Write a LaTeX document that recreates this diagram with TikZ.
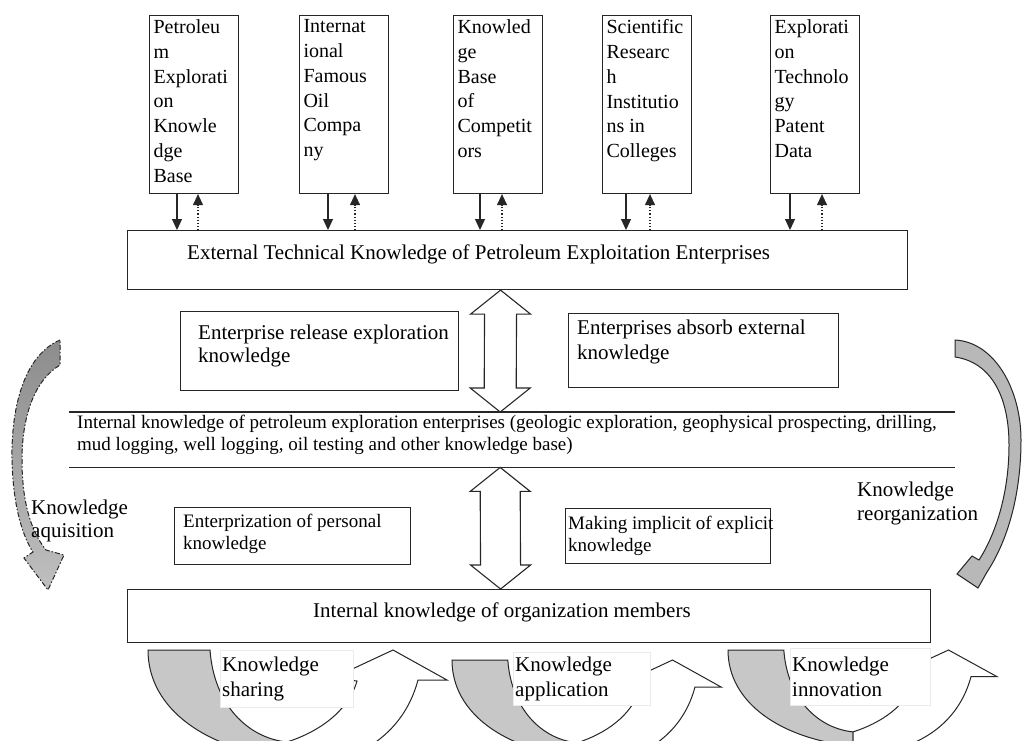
\documentclass[tikz,border=0pt]{standalone}
\usepackage{fontspec}
\setmainfont{Liberation Serif}
\usetikzlibrary{arrows.meta,calc}
\newcommand\dblarrow[3]{%
  \draw[blk] (#1) -- ++(30,24) -- ++(-30+#3,0) -- ([shift={(#3,-24)}]#2) -- ++(30-#3,0) -- (#2)
    -- ++(-30,-24) -- ++(30-#3,0) -- ([shift={(-#3,24)}]#1) -- ++(#3-30,0) -- cycle;}
\newcommand\bottomcurve{%
  \filldraw[band] (0,0) -- (62,0) .. controls (66,55) and (100,88) .. (139,92) -- (139,108)
    .. controls (60,100) and (0,60) .. (0,0) -- cycle;
  \filldraw[warr] (139,92) .. controls (170,82) and (200,62) .. (209,31) -- (185,28) -- (245,0)
    -- (299,30) -- (270,30) .. controls (258,75) and (225,100) .. (190,110) -- (139,110) -- cycle;}
\begin{document}
\begin{tikzpicture}[x=1pt,y=-1pt,
  ln/.style={draw=black!85, line width=1.1pt},
  box/.style={ln, rectangle, anchor=north west, inner sep=0pt},
  topbox/.style={box, minimum width=89pt, minimum height=178pt, font=\fontsize{20}{24.8}\selectfont},
  txt/.style={inner sep=0pt, align=left, font=\fontsize{21}{24}\selectfont},
  stxt/.style={inner sep=0pt, align=left, font=\fontsize{19}{22}\selectfont},
  lbl/.style={anchor=north west, fill=white, draw=black!8, inner xsep=2pt, inner ysep=0pt, align=left, font=\fontsize{21}{25}\selectfont},
  blk/.style={ln, fill=white, line join=miter},
  band/.style={draw=black!85, line width=1pt, fill=black!22},
  warr/.style={draw=black!85, line width=1pt, fill=white},
  down/.style={ln, -{Triangle[width=10pt,length=11pt]}},
  up/.style={draw=black!85, line width=1.1pt, dotted, -{Triangle[width=10pt,length=11pt]}},
]
\useasboundingbox (0,0) rectangle (1022,740);

% top boxes
\node[topbox] (b1) at (149,15) {\parbox[t][170pt][t]{81pt}{\raggedright Petroleu\\m\\Explorati\\on\\Knowle\\dge\\Base}};
\node[topbox] (b2) at (299,15) {\parbox[t][170pt][t]{81pt}{\raggedright Internat\\ional\\Famous\\Oil\\Compa\\ny}};
\node[topbox] (b3) at (453,15) {\parbox[t][170pt][t]{81pt}{\raggedright Knowled\\ge\\Base\\of\\Competit\\ors}};
\node[topbox] (b4) at (602,15) {\parbox[t][170pt][t]{81pt}{\raggedright Scientific\\Researc\\h\\Institutio\\ns in\\Colleges}};
\node[topbox] (b5) at (770,15) {\parbox[t][170pt][t]{81pt}{\raggedright Explorati\\on\\Technolo\\gy\\Patent\\Data}};

% external box
\node[box, minimum width=780pt, minimum height=59pt] (ext) at (127,230) {};
\node[txt, anchor=west] (extT) at (187,254) {External Technical Knowledge of Petroleum Exploitation Enterprises};

\foreach \b/\s/\d in {b1/28/49,b2/29/56,b3/27/49,b4/24/48,b5/20/52}{
  \path (\b.south west) ++(\s,0) coordinate (\b-s) ++(\d-\s,0) coordinate (\b-d);
  \draw[down] (\b-s) -- (\b-s |- ext.north);
  \draw[up] (\b-d |- ext.north) -- (\b-d);
}

% release / absorb boxes
\node[box, minimum width=278pt, minimum height=79pt] (rel) at (180,311) {};
\node[txt, anchor=north west, font=\fontsize{21}{23}\selectfont] (relT) at (198,325) {Enterprise release exploration\\knowledge};
\node[box, minimum width=270pt, minimum height=74pt] (abs) at (568,313) {};
\node[txt, anchor=north west, font=\fontsize{21}{25}\selectfont] (absT) at (577,320) {Enterprises absorb external\\knowledge};

% internal knowledge band
\node[anchor=north west, minimum width=886pt, minimum height=55pt, inner sep=0pt] (ikb) at (69,412) {};
\draw[ln] (ikb.north west) -- (ikb.north east);
\draw[ln] (ikb.south west) -- (ikb.south east);
\node[stxt, anchor=north west] (ikbT) at (77,415) {Internal knowledge of petroleum exploration enterprises (geologic exploration, geophysical prospecting, drilling,\\mud logging, well logging, oil testing and other knowledge base)};

% lower boxes
\node[box, minimum width=236pt, minimum height=57pt] (ent) at (174,507) {};
\node[stxt, anchor=north west] (entT) at (183,514) {Enterprization of personal\\knowledge};
\node[box, minimum width=205pt, minimum height=55pt] (mak) at (565,508) {};
\node[stxt, anchor=north west] (makT) at (568,516) {Making implicit of explicit\\knowledge};
\node[box, minimum width=803pt, minimum height=53pt] (iom) at (127,589) {};
\node[txt, anchor=west] (iomT) at (313,612) {Internal knowledge of organization members};

% double block arrows
\coordinate (a1s) at ([xshift=-17pt]ext.south);
\coordinate (a1e) at ([xshift=-12pt]ikb.north);
\coordinate (a2s) at ([xshift=-12pt]ikb.south);
\coordinate (a2e) at ([xshift=-28.5pt]iom.north);
\dblarrow{a1s}{a1e}{16}
\dblarrow{a2s}{a2e}{20}

% left curved arrow (knowledge aquisition)
\shadedraw[top color=black!45, middle color=white, bottom color=black!25, draw=black!85, line width=1pt,
  dash pattern=on 5pt off 2pt on 1.5pt off 2pt]
  (60,340) .. controls (25,355) and (11,405) .. (12,460) .. controls (13,505) and (22,535) .. (33,552)
  -- (24,558) -- (48,590) -- (64,555) -- (46,550)
  .. controls (30,530) and (22,500) .. (22,460) .. controls (22,415) and (35,380) .. (60,365) -- cycle;
\node[txt, anchor=north west, font=\fontsize{21}{23}\selectfont] (acq) at (31,500) {Knowledge\\aquisition};

% right curved arrow (knowledge reorganization)
\filldraw[fill=black!28, draw=black!85, line width=1pt]
  (955,340) .. controls (995,342) and (1021,390) .. (1021,440) .. controls (1021,500) and (1005,545) .. (987,572)
  -- (978,588) -- (957,574) -- (972,556) -- (979,560)
  .. controls (995,535) and (1009,495) .. (1009,445) .. controls (1009,395) and (990,362) .. (955,357) -- cycle;
\node[txt, anchor=north west, font=\fontsize{21}{24}\selectfont] (reo) at (857,482) {Knowledge\\reorganization};

% bottom curved arrows
\begin{scope}
  \clip (0,0) rectangle (1022,740);
  \begin{scope}[shift={(148,650)}] \bottomcurve \end{scope}
  \begin{scope}[shift={(452,660)}, xscale=0.9, yscale=0.9] \bottomcurve \end{scope}
  \begin{scope}[shift={(728,650)}, xscale=0.9, yscale=0.89] \bottomcurve \end{scope}
\end{scope}
\node[lbl, text width=129pt, minimum height=57pt] (shL) at (220,650) {Knowledge\\sharing};
\node[lbl, text width=133pt, minimum height=53pt] (apL) at (513,652) {Knowledge\\application};
\node[lbl, text width=136pt, minimum height=57pt] (inL) at (790,648) {Knowledge\\innovation};
\end{tikzpicture}
\end{document}
